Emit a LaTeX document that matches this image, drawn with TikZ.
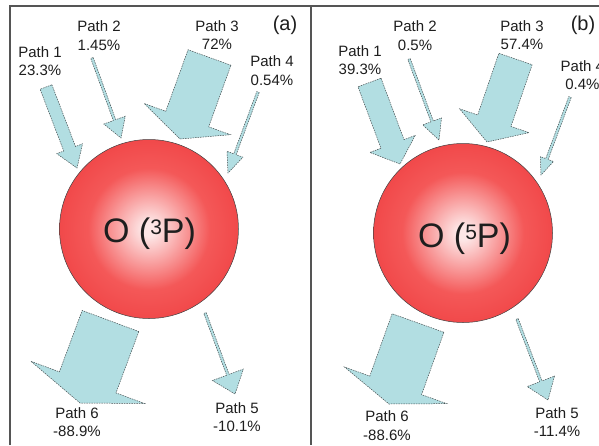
\documentclass[tikz,border=0pt]{standalone}
\usepackage{fontspec}
\setmainfont{Liberation Sans}
\usetikzlibrary{calc}
\definecolor{arrowfill}{RGB}{178,222,226}
\definecolor{arrowline}{RGB}{70,80,82}
\definecolor{framecol}{RGB}{85,85,85}
\definecolor{textcol}{RGB}{30,30,30}
\definecolor{ballin}{RGB}{253,230,230}
\definecolor{ballmid}{RGB}{244,88,88}
\definecolor{ballmid2}{RGB}{237,52,55}
\definecolor{ballout}{RGB}{224,34,38}
\pgfdeclareradialshading{ballshade}{\pgfpoint{0bp}{0bp}}{color(0bp)=(ballin);color(2bp)=(ballin);color(17bp)=(ballmid);color(36bp)=(ballmid2);color(50bp)=(ballout);color(100bp)=(ballout)}
\tikzset{
  arrowbody/.style={fill=arrowfill, draw=arrowline, line width=0.5pt, dash pattern=on 1.5pt off 1pt, line join=miter},
  lab/.style={align=center, inner sep=0pt, text=textcol, font=\fontsize{15}{18.5}\selectfont},
  panellab/.style={inner sep=0pt, text=textcol, font=\fontsize{20}{20}\selectfont},
  ball/.style={circle, minimum size=179pt, inner sep=0pt, shading=ballshade, draw=black!75, line width=0.5pt},
  balltext/.style={inner sep=0pt, anchor=base, text=textcol, font=\fontsize{34}{34}\selectfont},
  framestyle/.style={draw=framecol, line width=1.6pt}
}
% #1 name, #2 tail, #3 tip, #4 shaft half width, #5 head half width, #6 head length
\newcommand\fatarrow[6]{%
  \coordinate (#1b) at ($(#3)!#6!(#2)$);
  \path[arrowbody] ($(#2)!#4!90:(#3)$) -- ($(#1b)!#4!90:(#3)$) -- ($(#1b)!#5!90:(#3)$) -- (#3)
    -- ($(#1b)!#5!-90:(#3)$) -- ($(#1b)!#4!-90:(#3)$) -- ($(#2)!#4!-90:(#3)$) -- cycle;
}
\begin{document}
\begin{tikzpicture}[x=1pt,y=-1pt]
\useasboundingbox (0,0) rectangle (599,445);
\fill[white] (0,0) rectangle (599,445);
% frames
\coordinate (fa1) at (10,445);
\coordinate (fa2) at (10,6);
\coordinate (fa3) at (605,6);
\coordinate (fs1) at (311,6);
\coordinate (fs2) at (311,445);
\draw[framestyle] (fa1) -- (fa2) -- (fa3);
\draw[framestyle] (fs1) -- (fs2);

% ---------- panel (a) ----------
\node[ball] (balla) at (149,229) {};
\node[balltext] (txta) at (149.5,242) {O (\raisebox{7.5pt}{\fontsize{21}{21}\selectfont 3}P)};

\coordinate (a1t) at (46,87);     \coordinate (a1p) at (77,168);
\coordinate (a2t) at (92,58);     \coordinate (a2p) at (121,138);
\coordinate (a3t) at (209.5,57.5);\coordinate (a3p) at (180,139);
\coordinate (a4t) at (258,92);    \coordinate (a4p) at (228,173);
\coordinate (a5t) at (205,313);   \coordinate (a5p) at (235,394);
\coordinate (a6t) at (110.5,321); \coordinate (a6p) at (80,403);
\fatarrow{a1}{a1t}{a1p}{6.3pt}{13.8pt}{20.6pt}
\fatarrow{a2}{a2t}{a2p}{1.3pt}{11.4pt}{19pt}
\fatarrow{a3}{a3t}{a3p}{22.8pt}{45.9pt}{21.2pt}
\fatarrow{a4}{a4t}{a4p}{1.3pt}{8.5pt}{20pt}
\fatarrow{a5}{a5t}{a5p}{1.3pt}{16.5pt}{20.5pt}
\fatarrow{a6}{a6t}{a6p}{30.2pt}{60.6pt}{22pt}

\node[lab] (la1) at (40,61) {Path 1\\23.3\%};
\node[lab] (la2) at (99,35.5) {Path 2\\1.45\%};
\node[lab] (la3) at (217,35) {Path 3\\72\%};
\node[lab] (la4) at (272,70.5) {Path 4\\0.54\%};
\node[lab] (la5) at (237,417) {Path 5\\-10.1\%};
\node[lab] (la6) at (77,422) {Path 6\\-88.9\%};
\node[panellab] (pa) at (285,25) {(a)};

% ---------- panel (b) ----------
\node[ball] (ballb) at (463,233) {};
\node[balltext] (txtb) at (464.5,247) {O (\raisebox{7.5pt}{\fontsize{21}{21}\selectfont 5}P)};

\coordinate (b1t) at (369.5,82.5);\coordinate (b1p) at (400,164);
\coordinate (b2t) at (409,59);    \coordinate (b2p) at (439,140);
\coordinate (b3t) at (515.5,59);  \coordinate (b3p) at (487,142);
\coordinate (b4t) at (570,97);    \coordinate (b4p) at (541,175);
\coordinate (b5t) at (517,319);   \coordinate (b5p) at (548,400);
\coordinate (b6t) at (418,323);   \coordinate (b6p) at (389,404);
\fatarrow{b1}{b1t}{b1p}{12.3pt}{24.2pt}{21.4pt}
\fatarrow{b2}{b2t}{b2p}{1.3pt}{10pt}{19.8pt}
\fatarrow{b3}{b3t}{b3p}{17.6pt}{36.7pt}{22.5pt}
\fatarrow{b4}{b4t}{b4p}{1.3pt}{7pt}{17pt}
\fatarrow{b5}{b5t}{b5p}{1.3pt}{14.6pt}{20pt}
\fatarrow{b6}{b6t}{b6p}{27.5pt}{54.3pt}{19.8pt}

\node[lab] (lb1) at (360,60) {Path 1\\39.3\%};
\node[lab] (lb2) at (415,35.5) {Path 2\\0.5\%};
\node[lab] (lb3) at (522,35) {Path 3\\57.4\%};
\node[lab] (lb4) at (582.4,75) {Path 4\\0.4\%};
\node[lab] (lb5) at (557,422) {Path 5\\-11.4\%};
\node[lab] (lb6) at (387,425.5) {Path 6\\-88.6\%};
\node[panellab] (pb) at (583,25) {(b)};
\end{tikzpicture}
\end{document}
